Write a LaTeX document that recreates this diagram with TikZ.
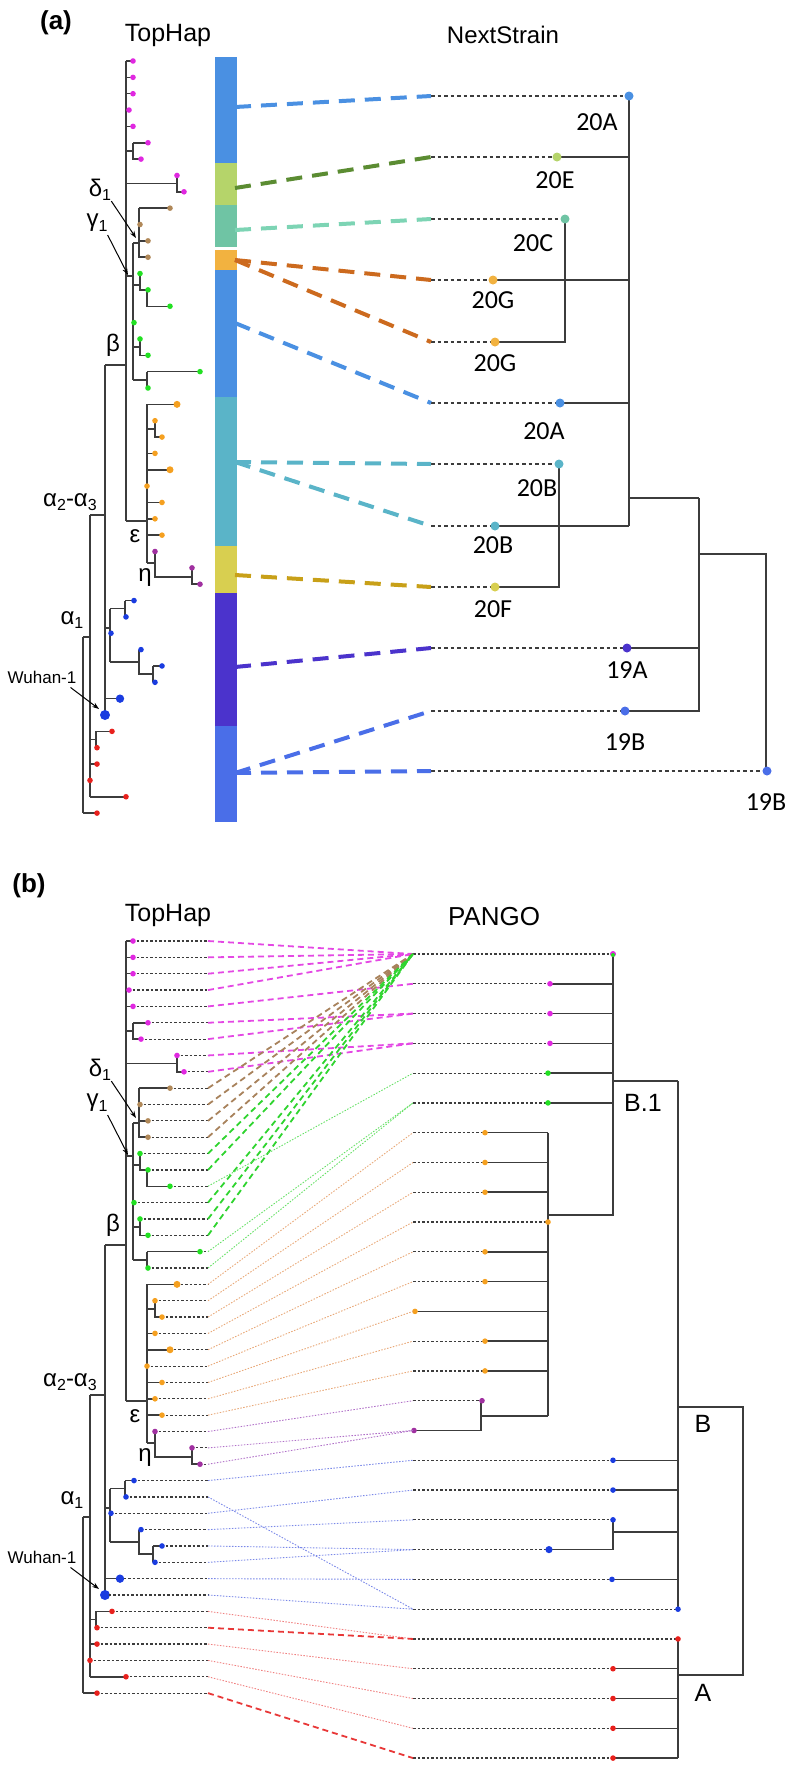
\documentclass[tikz,border=0pt]{standalone}
\usepackage{fontspec}
\setmainfont{Liberation Sans}
\newfontfamily\clfont{Carlito}
\usetikzlibrary{arrows.meta}
\definecolor{thmag}{RGB}{224,40,224}
\definecolor{thbrown}{RGB}{176,136,88}
\definecolor{thgreen}{RGB}{34,224,34}
\definecolor{thorange}{RGB}{245,160,32}
\definecolor{thpurple}{RGB}{160,48,160}
\definecolor{thblue}{RGB}{26,60,224}
\definecolor{thred}{RGB}{232,32,28}
\definecolor{thline}{RGB}{60,60,60}
\definecolor{nsblue}{RGB}{74,144,226}
\definecolor{nslime}{RGB}{181,212,106}
\definecolor{nsmint}{RGB}{111,196,164}
\definecolor{nsorange}{RGB}{242,178,64}
\definecolor{nsteal}{RGB}{90,180,200}
\definecolor{nsyellow}{RGB}{216,207,80}
\definecolor{nsindigo}{RGB}{75,51,204}
\definecolor{nsroyal}{RGB}{74,110,232}
\definecolor{nsdkgreen}{RGB}{91,140,50}
\definecolor{nsmintln}{RGB}{125,212,180}
\definecolor{nsrust}{RGB}{204,106,30}
\definecolor{nsgold}{RGB}{200,160,24}
\definecolor{pgmag}{RGB}{228,72,228}
\definecolor{pgbrown}{RGB}{168,130,92}
\definecolor{pggreen}{RGB}{47,212,47}
\definecolor{pglgreen}{RGB}{102,224,102}
\definecolor{pgorange}{RGB}{232,168,120}
\definecolor{pgpurple}{RGB}{176,112,200}
\definecolor{pgblue}{RGB}{122,136,232}
\definecolor{pgred}{RGB}{240,128,128}
\definecolor{pgdkred}{RGB}{232,56,56}
\newcommand{\thsub}[1]{\raisebox{-0.35ex}{\fontsize{16}{16}\selectfont #1}}
\tikzset{
  thedge/.style={draw=thline, line width=1.5pt},
  adash/.style={line width=4pt, dash pattern=on 16pt off 10pt},
  bdash/.style={line width=1.8pt, dash pattern=on 6pt off 4pt},
  bthin/.style={line width=0.9pt, dash pattern=on 1.5pt off 1.5pt},
  adot/.style={draw=thline, line width=1.5pt, dash pattern=on 3.5pt off 3pt},
  bdot/.style={draw=thline, line width=1.2pt, dash pattern=on 2.5pt off 2pt},
  tharrow/.style={-{Stealth[length=7pt,width=5pt]}, line width=1pt, draw=black},
  greek/.style={inner sep=0pt, font=\fontsize{24}{24}\selectfont},
  panel/.style={inner sep=0pt, font=\fontsize{26}{26}\selectfont\bfseries},
  title/.style={inner sep=0pt, font=\fontsize{25}{25}\selectfont},
  clade/.style={inner sep=0pt, font=\fontsize{26}{26}\selectfont\clfont},
}
% TopHap tree, local coordinates of panel (a)
\newcommand{\tophaptree}[1]{%
  \draw[thedge]
    (126,61) -- (126,521)
    (126,61) -- (133,61) (126,77.35) -- (133,77.35) (126,93.7) -- (133,93.7)
    (126,110.05) -- (129,110.05) (126,126.4) -- (133,126.4)
    (126,151) -- (133,151) (133,142.75) -- (133,159.1) -- (141,159.1) (133,142.75) -- (148,142.75)
    (126,183.6) -- (177,183.6) (177,175.45) -- (177,191.8) -- (184,191.8)
    (126,276) -- (133,276) (133,243) -- (133,380) (133,243) -- (139,243)
    (139,208.15) -- (139,257.2) -- (148,257.2) (139,208.15) -- (170,208.15) (139,240.85) -- (148,240.85)
    (133,285) -- (140,285) (140,273.55) -- (140,289.9) -- (147,289.9) -- (147,306.25) -- (170,306.25)
    (133,347) -- (140,347) (140,338.95) -- (140,355.3) -- (148,355.3)
    (133,380) -- (147,380) (147,371.65) -- (147,388) (147,371.65) -- (200,371.65)
    (105,365) -- (126,365) (126,521) -- (147,521)
    (147,404.35) -- (147,563) (147,404.35) -- (177,404.35)
    (147,429) -- (155,429) (155,420.7) -- (155,437.05) -- (162,437.05)
    (147,453.4) -- (155,453.4) (147,469.75) -- (170,469.75) (147,502.45) -- (162,502.45)
    (147,518.8) -- (155,518.8) (147,535.15) -- (162,535.15)
    (147,563) -- (155,563) (155,551.5) -- (155,577) -- (192,577) (192,567.85) -- (192,584.2) -- (200,584.2)
    (90,515) -- (105,515) (105,365) -- (105,715)
    (105,628) -- (110,628) (110,608.7) -- (110,662) (110,608.7) -- (125,608.7)
    (125,600.55) -- (125,616.9) (125,600.55) -- (134,600.55)
    (110,662) -- (139,662) (139,649.6) -- (139,674) -- (153,674) (153,665.95) -- (153,682.3) (153,665.95) -- (162,665.95)
    (105,698.65) -- (120,698.65)
    (83,637) -- (90,637) (90,515) -- (90,796.75) (83,637) -- (83,813.1)
    (90,739.5) -- (96,739.5) (96,731.35) -- (96,747.7) (96,731.35) -- (112,731.35) (90,764.05) -- (97,764.05)
    (90,796.75) -- (126,796.75) (83,813.1) -- (97,813.1);
  \foreach \i/\x/\col/\rad in {1/133/thmag/2.8, 2/133/thmag/2.8, 3/133/thmag/2.8, 4/129/thmag/2.8,
      5/133/thmag/2.8, 6/148/thmag/2.8, 7/141/thmag/2.8, 8/177/thmag/2.8, 9/184/thmag/2.8,
      10/170/thbrown/2.8, 11/140/thbrown/2.8, 12/148/thbrown/2.8, 13/148/thbrown/2.8,
      14/140/thgreen/2.8, 15/148/thgreen/2.8, 16/170/thgreen/2.8, 17/134/thgreen/2.8,
      18/140/thgreen/2.8, 19/148/thgreen/2.8, 20/200/thgreen/2.8, 21/148/thgreen/2.8,
      22/177/thorange/3.5, 23/155/thorange/2.8, 24/162/thorange/2.8, 25/155/thorange/2.8,
      26/170/thorange/3.5, 27/147/thorange/2.8, 28/162/thorange/2.8, 29/155/thorange/2.8,
      30/162/thorange/2.8, 31/155/thpurple/2.8, 32/192/thpurple/2.8, 33/200/thpurple/2.8,
      34/134/thblue/2.8, 35/126/thblue/2.8, 36/111/thblue/2.8, 37/141/thblue/2.8,
      38/162/thblue/2.8, 39/155/thblue/2.8, 40/120/thblue/4.2, 41/105/thblue/5,
      42/112/thred/2.8, 43/97/thred/2.8, 44/97/thred/2.8, 45/90/thred/2.8,
      46/126/thred/2.8, 47/97/thred/2.8} {
    \coordinate (#1tip\i) at (\x,{61+(\i-1)*16.35});
    \fill[\col] (#1tip\i) circle (\rad pt);
  }
  \node[title] (#1title) at (168,35) {TopHap};
  \node[greek] (#1delta) at (100,190) {δ\thsub{1}};
  \node[greek] (#1gamma) at (97,223) {γ\thsub{1}};
  \node[greek] (#1beta) at (113,345) {β};
  \node[greek] (#1alpha) at (70,502) {α\thsub{2}-α\thsub{3}};
  \node[greek] (#1eps) at (135,536) {ε};
  \node[greek] (#1eta) at (145,578) {η};
  \node[greek] (#1alone) at (72,620) {α\thsub{1}};
  \node[inner sep=0pt, font=\fontsize{17}{17}\selectfont] (#1wuhan) at (42,677) {Wuhan-1};
  \coordinate (#1dnode) at (136,238);
  \coordinate (#1gnode) at (128,275);
  \coordinate (#1wnode) at (99,709);
  \draw[tharrow] (#1delta.south east) -- (#1dnode);
  \draw[tharrow] ([yshift=-3pt]#1gamma.south east) -- (#1gnode);
  \draw[tharrow] ([xshift=-6pt,yshift=-4pt]#1wuhan.south east) -- (#1wnode);
}
\begin{document}
\begin{tikzpicture}[x=1pt, y=-1pt]
  \useasboundingbox (0,0) rectangle (793,1767);

  % (a) TopHap vs NextStrain
  \node[panel] (pa) at (56,23) {(a)};
  \tophaptree{a}
  \fill[nsblue] (215,57) rectangle (237,163);
  \fill[nslime] (215,163) rectangle (237,205);
  \fill[nsmint] (215,205) rectangle (237,247);
  \fill[nsorange] (215,250) rectangle (237,270);
  \fill[nsblue] (215,270) rectangle (237,397);
  \fill[nsteal] (215,397) rectangle (237,546);
  \fill[nsyellow] (215,546) rectangle (237,593);
  \fill[nsindigo] (215,593) rectangle (237,726);
  \fill[nsroyal] (215,726) rectangle (237,822);
  \foreach \k/\y in {1/107, 2/188, 3/230, 4/260, 5/323, 6/462, 7/575, 8/667, 9/773}
    \coordinate (bar\k) at (235,\y);
  \node[inner sep=0pt, font=\fontsize{24}{24}\selectfont] (natitle) at (503,35) {NextStrain};
  \foreach \k/\y/\x/\col/\lx/\ly/\t in {1/96/629/nsblue/597/122/20A, 2/157/557/nslime/555/180/20E,
      3/219/565/nsmint/533/243/20C, 4/280/493/nsorange/493/300/20G, 5/342/495/nsorange/495/363/20G,
      6/403/560/nsblue/544/431/20A, 7/464/559/nsteal/537/488/20B, 8/526/495/nsteal/493/545/20B,
      9/587/495/nsyellow/493/609/20F, 10/648/627/nsindigo/627/670/19A, 11/711/625/nsroyal/625/742/19B,
      12/771/767/nsroyal/766/802/19B} {
    \coordinate (ns\k) at (431,\y);
    \coordinate (nd\k) at (\x,\y);
    \draw[adot] (ns\k) -- (nd\k);
    \node[clade] (nl\k) at (\lx,\ly) {\t};
  }
  \draw[thedge]
    (629,96) -- (629,526) (557,157) -- (629,157)
    (565,219) -- (565,342) -- (495,342) (493,280) -- (629,280)
    (560,403) -- (629,403) (559,464) -- (559,587) -- (495,587)
    (495,526) -- (629,526) (629,498) -- (699,498)
    (699,498) -- (699,711) -- (625,711) (627,648) -- (699,648)
    (699,554) -- (766,554) -- (766,771);
  \foreach \k/\col in {1/nsblue, 2/nslime, 3/nsmint, 4/nsorange, 5/nsorange, 6/nsblue,
      7/nsteal, 8/nsteal, 9/nsyellow, 10/nsindigo, 11/nsroyal, 12/nsroyal}
    \fill[\col] (nd\k) circle (4.5pt);
  \foreach \s/\k/\col in {1/1/nsblue, 2/2/nsdkgreen, 3/3/nsmintln, 4/4/nsrust, 4/5/nsrust,
      5/6/nsblue, 6/7/nsteal, 6/8/nsteal, 7/9/nsgold, 8/10/nsindigo, 9/11/nsroyal, 9/12/nsroyal}
    \draw[adash, \col] (bar\s) -- (ns\k);

  % (b) TopHap vs PANGO
  \node[panel] (pb) at (29,886) {(b)};
  \begin{scope}[yshift=-880pt]
    \tophaptree{b}
  \end{scope}
  \foreach \i in {1,...,47} {
    \coordinate (L\i) at (208,{941+(\i-1)*16.35});
    \draw[bdot] ([xshift=3.5pt]btip\i) -- (L\i);
  }
  \node[title, font=\fontsize{26}{26}\selectfont] (pbtitle) at (494,917) {PANGO};
  \foreach \j/\x/\col in {1/613/thgreen, 2/550/thmag, 3/550/thmag, 4/550/thmag, 5/548/thgreen,
      6/548/thgreen, 7/485/thorange, 8/485/thorange, 9/485/thorange, 10/548/thorange,
      11/485/thorange, 12/485/thorange, 13/415/thorange, 14/485/thorange, 15/485/thorange,
      16/482/thpurple, 17/414/thpurple, 18/613/thblue, 19/613/thblue, 20/613/thblue,
      21/549/thblue, 22/612/thblue, 23/678/thblue, 24/678/thred, 25/613/thred,
      26/613/thred, 27/613/thred, 28/613/thred} {
    \coordinate (R\j) at (413,{954+(\j-1)*29.78});
    \coordinate (P\j) at (\x,{954+(\j-1)*29.78});
    \draw[bdot] (R\j) -- (P\j);
  }
  \draw[thedge]
    (613,954) -- (613,1215) -- (548,1215)
    (550,983.8) -- (613,983.8) (550,1013.6) -- (613,1013.6) (550,1043.3) -- (613,1043.3)
    (548,1073.1) -- (613,1073.1) (548,1102.9) -- (613,1102.9)
    (613,1081) -- (678,1081)
    (548,1132.7) -- (548,1416)
    (485,1132.7) -- (548,1132.7) (485,1162.5) -- (548,1162.5) (485,1192.2) -- (548,1192.2)
    (485,1251.8) -- (548,1251.8) (485,1281.6) -- (548,1281.6) (415,1311.4) -- (548,1311.4)
    (485,1341.1) -- (548,1341.1) (485,1370.9) -- (548,1370.9)
    (481,1400.7) -- (481,1430.5) -- (414,1430.5) (481,1416) -- (548,1416)
    (678,1081) -- (678,1609.2)
    (613,1460.3) -- (678,1460.3) (613,1490) -- (678,1490)
    (613,1519.8) -- (613,1549.6) -- (549,1549.6) (613,1532) -- (678,1532)
    (612,1579.4) -- (678,1579.4)
    (678,1407) -- (743,1407) -- (743,1675) -- (678,1675)
    (678,1639) -- (678,1758.1)
    (613,1668.7) -- (678,1668.7) (613,1698.5) -- (678,1698.5)
    (613,1728.3) -- (678,1728.3) (613,1758.1) -- (678,1758.1);
  \foreach \j/\col in {2/thmag, 3/thmag, 4/thmag, 5/thgreen, 6/thgreen, 7/thorange, 8/thorange,
      9/thorange, 10/thorange, 11/thorange, 12/thorange, 13/thorange, 14/thorange, 15/thorange,
      16/thpurple, 17/thpurple, 18/thblue, 19/thblue, 20/thblue, 22/thblue, 23/thblue,
      24/thred, 25/thred, 26/thred, 27/thred, 28/thred}
    \fill[\col] (P\j) circle (2.8pt);
  \fill[thblue] (P21) circle (3.6pt);
  \fill[thmag] (P1) circle (3pt);
  \fill[thgreen] ([yshift=-1pt]P1) circle (2pt);
  \node[title] (lb1) at (643,1103) {B.1};
  \node[title] (lbb) at (703,1424) {B};
  \node[title] (lba) at (703,1693) {A};
  \foreach \i/\j in {1/1, 2/1, 3/1, 4/1, 5/2, 6/3, 7/3, 8/4, 9/4}
    \draw[bdash, pgmag] (L\i) -- (R\j);
  \foreach \i/\j in {10/1, 11/1, 12/1, 13/1}
    \draw[bdash, pgbrown] (L\i) -- (R\j);
  \foreach \i/\j in {14/1, 15/1, 17/1, 18/1, 19/1}
    \draw[bdash, pggreen] (L\i) -- (R\j);
  \foreach \i/\j in {16/5, 20/6, 21/6}
    \draw[bthin, pglgreen] (L\i) -- (R\j);
  \foreach \i/\j in {22/7, 23/8, 24/9, 25/10, 26/11, 27/12, 28/13, 29/14, 30/15}
    \draw[bthin, pgorange] (L\i) -- (R\j);
  \foreach \i/\j in {31/16, 32/17, 33/17}
    \draw[bthin, pgpurple] (L\i) -- (R\j);
  \foreach \i/\j in {34/18, 35/23, 36/19, 37/20, 38/21, 39/21, 40/22, 41/23}
    \draw[bthin, pgblue] (L\i) -- (R\j);
  \foreach \i/\j in {42/24, 44/25, 45/26, 46/27}
    \draw[bthin, pgred] (L\i) -- (R\j);
  \foreach \i/\j in {43/24, 47/28}
    \draw[bdash, pgdkred] (L\i) -- (R\j);
\end{tikzpicture}
\end{document}
